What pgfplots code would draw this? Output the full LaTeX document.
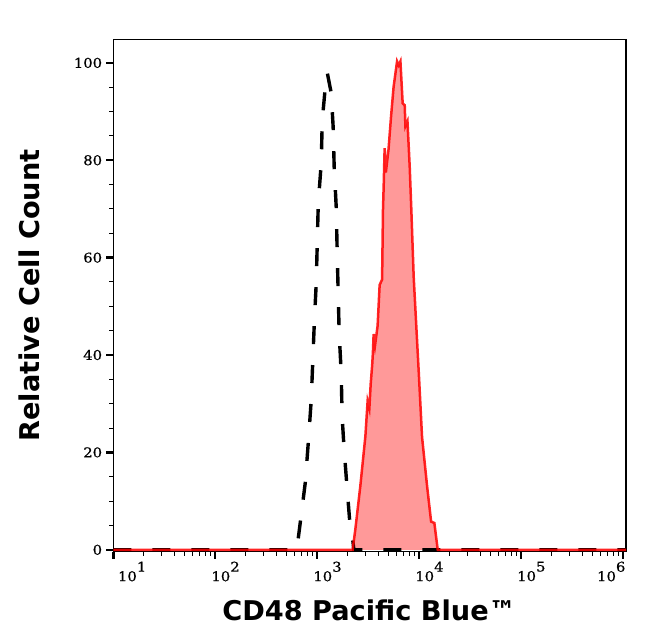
\documentclass[border=0pt]{standalone}
\usepackage{fontspec}
\setmainfont{DejaVu Serif}
\newfontfamily\tickfont[FakeStretch=1.1,FakeBold=0.6]{DejaVu Serif}
\newfontfamily\labelfont{DejaVu Sans}
\usepackage{pgfplots}
\pgfplotsset{compat=1.18}
\newcommand{\E}[1]{10\raisebox{9.5bp}{#1}}
\pgfplotstableread{
lx y
1.000 0
3.348 0
3.374 4.1
3.423 13.0
3.473 23.3
3.495 30.5
3.512 29.0
3.525 34.0
3.540 38.0
3.547 40.5
3.554 44.3
3.568 42.0
3.593 46.0
3.613 54.4
3.637 55.5
3.646 70.0
3.653 75.0
3.662 82.5
3.674 77.5
3.700 82.2
3.725 89.0
3.750 95.1
3.784 100.3
3.800 99.5
3.817 100.3
3.839 91.7
3.859 91.3
3.866 87.0
3.886 88.0
3.908 78.7
3.924 69.8
3.947 56.1
3.973 45.8
3.998 36.0
4.029 23.2
4.079 13.0
4.118 5.8
4.150 5.5
4.183 0
6.030 0
}\sample
\pgfplotstableread{
lx y
1.000 0
2.800 0
2.824 3.9
2.883 13.7
2.913 22.0
2.942 30.8
2.972 46.6
2.991 54.8
3.011 71.2
3.040 79.4
3.050 88.2
3.089 97.1
3.099 98.0
3.138 93.8
3.157 86.8
3.167 78.6
3.187 70.4
3.196 61.6
3.216 44.5
3.236 36.3
3.245 27.3
3.265 20.5
3.295 12.3
3.324 4.7
3.344 3.1
3.360 0
6.030 0
}\control
\begin{document}
\begin{tikzpicture}
\path[use as bounding box] (0,0) rectangle (646bp,641bp);
\begin{axis}[
  at={(113.3bp,89.5bp)}, anchor=south west,
  scale only axis, width=512.7bp, height=512bp,
  xmin=1, xmax=6.03, ymin=-0.35, ymax=104.8,
  axis line style={line width=1.2bp},
  tick align=outside, xtick pos=bottom, ytick pos=left,
  major tick length=7bp, minor tick length=4bp,
  major tick style={line width=2.4bp, black},
  minor tick style={line width=1bp, black},
  xtick={1,2,3,4,5,6},
  xticklabels={\hspace*{8.5bp}\E{1},\E{2},\E{3},\E{4},\E{5},\hspace*{-22bp}\E{6}},
  minor xtick={1.30103,1.47712,1.60206,1.69897,1.77815,1.84510,1.90309,1.95424,
    2.30103,2.47712,2.60206,2.69897,2.77815,2.84510,2.90309,2.95424,
    3.30103,3.47712,3.60206,3.69897,3.77815,3.84510,3.90309,3.95424,
    4.30103,4.47712,4.60206,4.69897,4.77815,4.84510,4.90309,4.95424,
    5.30103,5.47712,5.60206,5.69897,5.77815,5.84510,5.90309,5.95424},
  ytick={0,20,40,60,80,100}, minor y tick num=3,
  /pgf/number format/assume math mode=true,
  xticklabel style={font=\tickfont\fontsize{13.5}{14}\selectfont, anchor=north west, xshift=-4bp, inner sep=0pt, yshift=-3bp},
  yticklabel style={font=\tickfont\fontsize{13.5}{14}\selectfont, anchor=east, inner sep=0pt, xshift=-4bp},
  xlabel={CD48 Pacific Blue™},
  ylabel={Relative Cell Count},
  xlabel style={font=\labelfont\bfseries\fontsize{27.3}{30}\selectfont, at={(axis description cs:0.499,-0.114)}, anchor=center},
  ylabel style={font=\labelfont\bfseries\fontsize{27.3}{30}\selectfont, at={(axis description cs:-0.164,0.5)}, anchor=center},
  clip=true,
]
\addplot[draw=none, fill=red, fill opacity=0.4] table[x=lx,y=y] {\sample} \closedcycle;
\addplot[black, line width=3.4bp, dash pattern=on 18bp off 21bp] table[x=lx,y=y] {\control};
\addplot[red, line width=2.5bp, line join=miter, draw opacity=0.85] table[x=lx,y=y] {\sample};
\end{axis}
\end{tikzpicture}
\end{document}
